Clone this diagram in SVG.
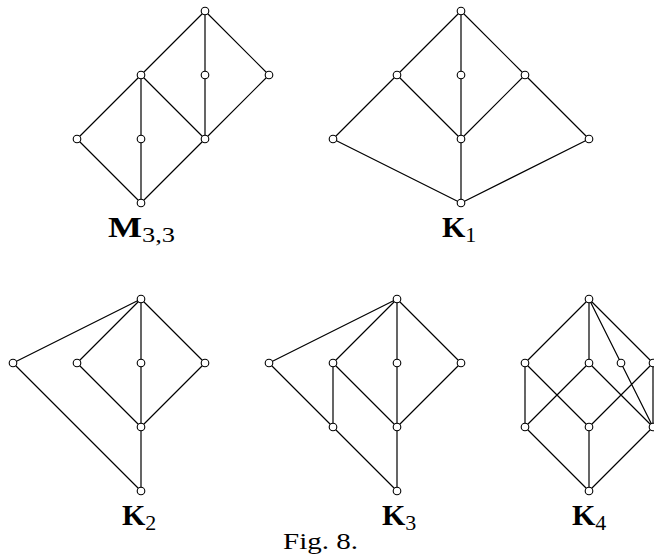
<svg xmlns="http://www.w3.org/2000/svg" width="654" height="556" viewBox="0 0 654 556">
<style>
.e{stroke:#000;stroke-width:1.2;fill:none}
.n{fill:#fff;stroke:#000;stroke-width:1.1}
text{font-family:"Times New Roman","Liberation Serif",Tinos,serif;fill:#000}
.lb{font-weight:bold;font-size:30px}
.sb{font-weight:normal;font-size:22px}
.fig{font-size:24px}
</style>
<defs><circle id="c" r="3.8" class="n"/></defs>
<g id="connectors">
<path class="e" d="M205,11L141,75M205,11L205,75M205,11L269,75M205,75L205,139M269,75L205,139M141,75L77,139M141,75L141,139M141,75L205,139M77,139L141,203M141,139L141,203M205,139L141,203"/>
<path class="e" d="M461,11L397,75M461,11L461,75M461,11L525,75M397,75L333,139M397,75L461,139M461,75L461,139M525,75L461,139M525,75L589,139M333,139L461,203M461,139L461,203M589,139L461,203"/>
<path class="e" d="M141,299L13,363M141,299L77,363M141,299L141,363M141,299L205,363M13,363L141,491M77,363L141,427M141,363L141,427M205,363L141,427M141,427L141,491"/>
<path class="e" d="M397,299L269,363M397,299L333,363M397,299L397,363M397,299L461,363M269,363L333,427M333,363L333,427M333,363L397,427M397,363L397,427M461,363L397,427M333,427L397,491M397,427L397,491"/>
<path class="e" d="M589,299L525,363M589,299L589,363M589,299L621,363M589,299L653,363M525,363L525,427M525,363L589,427M589,363L525,427M589,363L653,427M621,363L653,427M653,363L589,427M653,363L653,427M525,427L589,491M589,427L589,491M653,427L589,491"/>
</g>
<g id="M33">
<use href="#c" x="205" y="11"/><use href="#c" x="141" y="75"/><use href="#c" x="205" y="75"/><use href="#c" x="269" y="75"/>
<use href="#c" x="77" y="139"/><use href="#c" x="141" y="139"/><use href="#c" x="205" y="139"/><use href="#c" x="141" y="203"/>
<text class="lb" x="108" y="237" textLength="67" lengthAdjust="spacingAndGlyphs">M<tspan class="sb" dy="5">3,3</tspan></text>
</g>
<g id="K1">
<use href="#c" x="461" y="11"/><use href="#c" x="397" y="75"/><use href="#c" x="461" y="75"/><use href="#c" x="525" y="75"/>
<use href="#c" x="333" y="139"/><use href="#c" x="461" y="139"/><use href="#c" x="589" y="139"/><use href="#c" x="461" y="203"/>
<text class="lb" x="442" y="237">K<tspan class="sb" dy="5">1</tspan></text>
</g>
<g id="K2">
<use href="#c" x="141" y="299"/><use href="#c" x="13" y="363"/><use href="#c" x="77" y="363"/><use href="#c" x="141" y="363"/><use href="#c" x="205" y="363"/>
<use href="#c" x="141" y="427"/><use href="#c" x="141" y="491"/>
<text class="lb" x="122" y="525">K<tspan class="sb" dy="5">2</tspan></text>
</g>
<g id="K3">
<use href="#c" x="397" y="299"/><use href="#c" x="269" y="363"/><use href="#c" x="333" y="363"/><use href="#c" x="397" y="363"/><use href="#c" x="461" y="363"/>
<use href="#c" x="333" y="427"/><use href="#c" x="397" y="427"/><use href="#c" x="397" y="491"/>
<text class="lb" x="382" y="525">K<tspan class="sb" dy="5">3</tspan></text>
</g>
<g id="K4">
<use href="#c" x="589" y="299"/><use href="#c" x="525" y="363"/><use href="#c" x="589" y="363"/><use href="#c" x="621" y="363"/><use href="#c" x="653" y="363"/>
<use href="#c" x="525" y="427"/><use href="#c" x="589" y="427"/><use href="#c" x="653" y="427"/><use href="#c" x="589" y="491"/>
<text class="lb" x="572" y="525">K<tspan class="sb" dy="5">4</tspan></text>
</g>
<g id="caption">
<text class="fig" x="283" y="549" textLength="75" lengthAdjust="spacingAndGlyphs">Fig. 8.</text>
</g>
</svg>
